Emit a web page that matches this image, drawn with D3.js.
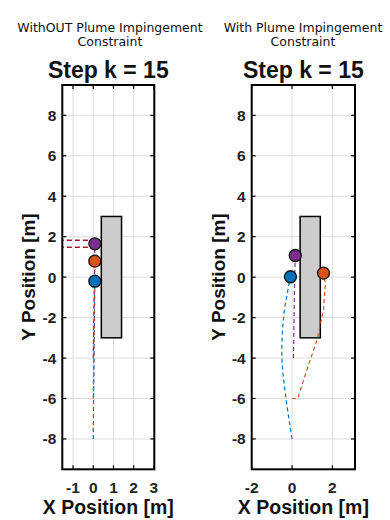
<!DOCTYPE html>
<html><head><meta charset="utf-8">
<script src="https://cdn.jsdelivr.net/npm/d3@7"></script>
<style>body{margin:0;background:#fff}svg{display:block}</style>
</head><body>
<svg id="c" width="390" height="520"></svg>
<script>
// ---- data ----
const yTicks = [-8, -6, -4, -2, 0, 2, 4, 6, 8];
const leftXTicks = [-1, 0, 1, 2, 3];
const rightXTicks = [-2, 0, 2];
const obstacleX = [0.4, 1.4];
const obstacleY = [-3, 3];

// left panel (without constraint)
const blueL = [[0, -8], [0.02, -6], [0.04, -4], [0.06, -2], [0.08, -0.2]];
const orangeL = [[0, -6], [0.03, -4], [0.05, -2], [0.08, 0.79]];
const purpleL = [[0, -4], [0.03, -2], [0.06, 0], [0.08, 1.65]];
const redL1 = [[-1.7, 1.82], [0.08, 1.82]];
const redL2 = [[-1.7, 1.48], [0.0, 1.48]];
const agentsL = [[0.08, -0.2], [0.08, 0.79], [0.08, 1.65]];

// right panel (with constraint)
const blueR = [[0, -8], [-0.3, -6], [-0.5, -4], [-0.42, -2], [-0.18, -0.5], [-0.08, 0.02]];
const purpleR = [[0.07, -4], [0.1, -2], [0.13, 0], [0.16, 1.07]];
const orangeR = [[0, -6], [0.28, -6], [0.74, -4.57], [1.24, -3.1], [1.56, -1.6], [1.65, -0.3], [1.56, 0.2]];
const agentsR = [[-0.08, 0.02], [1.56, 0.2], [0.16, 1.07]];

const colors = ["#0072BD", "#D95319", "#7E2F8E"];
const darkRed = "#A2142F";

const svg = d3.select("#c");

function panel(opt) {
  const x = d3.scaleLinear().domain(opt.xDomain).range([opt.x0, opt.x1]);
  const y = d3.scaleLinear().domain([-9.5, 9.5]).range([469.3, 85]);
  const g = svg.append("g");
  // grid
  g.selectAll(".gx").data(opt.xTicks).join("line")
    .attr("x1", d => x(d)).attr("x2", d => x(d)).attr("y1", y(-9.5)).attr("y2", y(9.5))
    .attr("stroke", "#dcdcdc").attr("stroke-width", 1);
  g.selectAll(".gy").data(yTicks).join("line")
    .attr("y1", d => y(d)).attr("y2", d => y(d)).attr("x1", x(opt.xDomain[0])).attr("x2", x(opt.xDomain[1]))
    .attr("stroke", "#dcdcdc").attr("stroke-width", 1);
  // obstacle
  g.append("rect").attr("x", x(obstacleX[0])).attr("y", y(obstacleY[1]))
    .attr("width", x(obstacleX[1]) - x(obstacleX[0])).attr("height", y(obstacleY[0]) - y(obstacleY[1]))
    .attr("fill", "#cccccc").attr("stroke", "#000").attr("stroke-width", 1.5);
  // trajectories
  const clip = "clip" + opt.id;
  svg.append("clipPath").attr("id", clip).append("rect")
    .attr("x", opt.x0).attr("y", 85).attr("width", opt.x1 - opt.x0).attr("height", 469.3 - 85);
  const tg = g.append("g").attr("clip-path", `url(#${clip})`);
  opt.paths.forEach(p => {
    const line = d3.line().x(d => x(d[0])).y(d => y(d[1])).curve(p.curve || d3.curveLinear);
    tg.append("path").attr("d", line(p.data))
      .attr("fill", "none").attr("stroke", p.color).attr("stroke-width", p.w || 1.2)
      .attr("stroke-dasharray", p.dash || "4,3");
  });
  // agents
  g.selectAll(".ag").data(opt.agents).join("circle")
    .attr("cx", d => x(d[0])).attr("cy", d => y(d[1])).attr("r", 6)
    .attr("fill", (d, i) => colors[i]).attr("stroke", "#111").attr("stroke-width", 1.3);
  // ticks inward
  const tl = 4;
  g.selectAll(".tx").data(opt.xTicks).join("line")
    .attr("x1", d => x(d)).attr("x2", d => x(d)).attr("y1", y(-9.5)).attr("y2", y(-9.5) - tl)
    .attr("stroke", "#000").attr("stroke-width", 1.2);
  g.selectAll(".tx2").data(opt.xTicks).join("line")
    .attr("x1", d => x(d)).attr("x2", d => x(d)).attr("y1", y(9.5)).attr("y2", y(9.5) + tl)
    .attr("stroke", "#000").attr("stroke-width", 1.2);
  g.selectAll(".ty").data(yTicks).join("line")
    .attr("y1", d => y(d)).attr("y2", d => y(d)).attr("x1", opt.x0).attr("x2", opt.x0 + tl)
    .attr("stroke", "#000").attr("stroke-width", 1.2);
  g.selectAll(".ty2").data(yTicks).join("line")
    .attr("y1", d => y(d)).attr("y2", d => y(d)).attr("x1", opt.x1).attr("x2", opt.x1 - tl)
    .attr("stroke", "#000").attr("stroke-width", 1.2);
  // box
  g.append("rect").attr("x", opt.x0).attr("y", 85).attr("width", opt.x1 - opt.x0).attr("height", 469.3 - 85)
    .attr("fill", "none").attr("stroke", "#000").attr("stroke-width", 2);
  // tick labels
  const tf = "Liberation Sans, Arial, sans-serif";
  g.selectAll(".lx").data(opt.xTicks).join("text")
    .attr("x", d => x(d)).attr("y", 493).attr("text-anchor", "middle")
    .attr("font-family", tf).attr("font-weight", "bold").attr("font-size", 15.5).attr("fill", "#222")
    .text(d => d);
  g.selectAll(".ly").data(yTicks).join("text")
    .attr("x", opt.x0 - 6).attr("y", d => y(d) + 5.5).attr("text-anchor", "end")
    .attr("font-family", tf).attr("font-weight", "bold").attr("font-size", 15.5).attr("fill", "#222")
    .text(d => d);
  // axis labels
  const cx = (opt.x0 + opt.x1) / 2;
  g.append("text").attr("x", cx).attr("y", 514).attr("text-anchor", "middle")
    .attr("font-family", tf).attr("font-weight", "bold").attr("font-size", 19.5).attr("fill", "#111")
    .text("X Position [m]");
  g.append("text").attr("transform", `translate(${opt.ylabX},277) rotate(-90)`).attr("text-anchor", "middle")
    .attr("font-family", tf).attr("font-weight", "bold").attr("font-size", 19).attr("fill", "#111")
    .text("Y Position [m]");
  // step title
  g.append("text").attr("x", cx).attr("y", 78).attr("text-anchor", "middle")
    .attr("font-family", tf).attr("font-weight", "bold").attr("font-size", 23).attr("fill", "#111")
    .text("Step k = 15");
  // header
  const hf = "'DejaVu Sans', sans-serif";
  opt.header.forEach((t, i) => {
    svg.append("text").attr("x", opt.hx).attr("y", 32 + i * 14).attr("text-anchor", "middle")
      .attr("font-family", hf).attr("font-size", 12.5).attr("fill", "#111").text(t);
  });
}

panel({
  id: "L", xDomain: [-1.53, 3.02], x0: 62.3, x1: 154.3, xTicks: leftXTicks, ylabX: 35,
  agents: agentsL, hx: 110, header: ["WithOUT Plume Impingement", "Constraint"],
  paths: [
    {data: blueL, color: colors[0]},
    {data: orangeL, color: colors[1]},
    {data: purpleL, color: colors[2]},
    {data: redL1, color: darkRed, w: 1.5, dash: "5,3"},
    {data: redL2, color: darkRed, w: 1.5, dash: "5,3"}
  ]
});
panel({
  id: "R", xDomain: [-2, 3.12], x0: 251.7, x1: 355, xTicks: rightXTicks, ylabX: 225,
  agents: agentsR, hx: 303, header: ["With Plume Impingement", "Constraint"],
  paths: [
    {data: blueR, color: colors[0], curve: d3.curveCatmullRom},
    {data: purpleR, color: colors[2]},
    {data: orangeR, color: colors[1]}
  ]
});
</script>
</body></html>
